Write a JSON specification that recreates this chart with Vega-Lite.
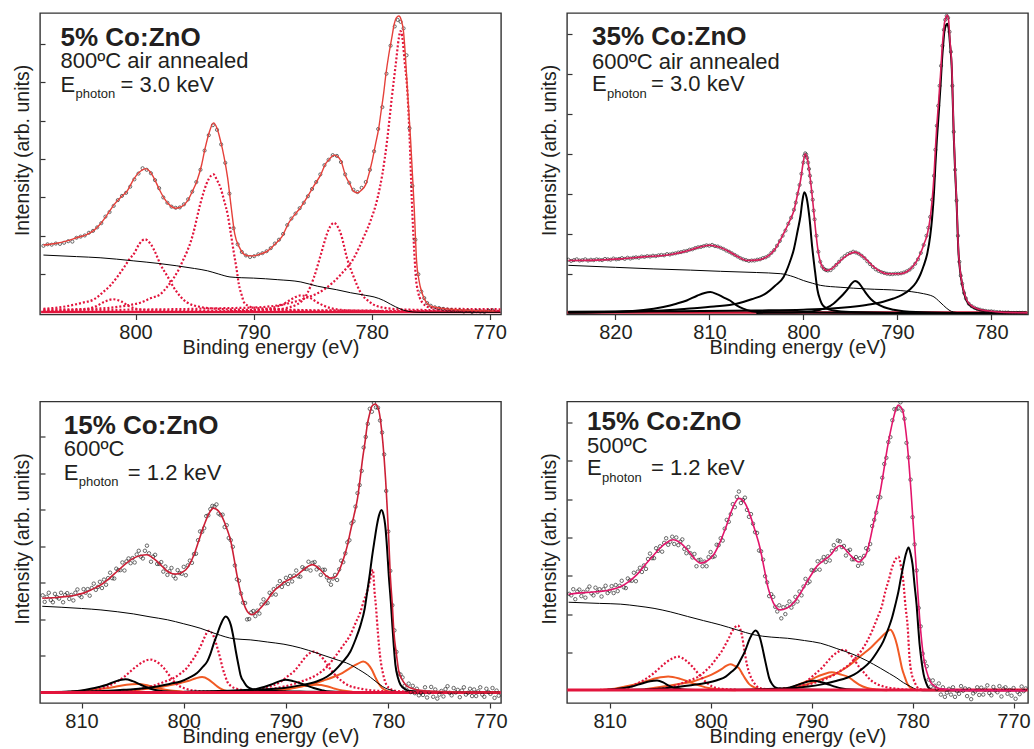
{
"$schema":"https://vega.github.io/schema/vega-lite/v6.json",
"padding":{"left":11,"top":12,"right":0,"bottom":0},
"autosize":{"type":"pad"},
"bounds":"flush",
"columns":2,
"spacing":{"row":86.5,"column":66},
"config":{
"font":"Liberation Sans",
"view":{"stroke":"#333","strokeWidth":1.4},
"axis":{"grid":false,"domain":false,"tickColor":"#333","tickWidth":1.2,"labelFontSize":20,"labelColor":"#231f20","titleFontSize":20,"titleFontWeight":"normal","titleColor":"#231f20","labelFont":"Liberation Sans","titleFont":"Liberation Sans"},
"axisX":{"tickSize":5,"labelPadding":3,"titlePadding":-5},
"axisY":{"tickSize":-5,"labels":false,"titlePadding":7,"titleFontSize":19.5,"titleY":137}
},
"datasets":{
"tl_p":[{"e":807.8,"i":1.74},{"e":807.45,"i":1.78},{"e":807.1,"i":1.77},{"e":806.75,"i":1.8},{"e":806.4,"i":1.79},{"e":806.05,"i":1.82},{"e":805.7,"i":1.86},{"e":805.35,"i":1.85},{"e":805.0,"i":1.95},{"e":804.65,"i":1.98},{"e":804.3,"i":2.01},{"e":803.95,"i":2.08},{"e":803.6,"i":2.13},{"e":803.25,"i":2.22},{"e":802.9,"i":2.33},{"e":802.55,"i":2.5},{"e":802.2,"i":2.62},{"e":801.85,"i":2.78},{"e":801.5,"i":2.93},{"e":801.15,"i":3.04},{"e":800.8,"i":3.12},{"e":800.45,"i":3.28},{"e":800.1,"i":3.47},{"e":799.75,"i":3.62},{"e":799.4,"i":3.76},{"e":799.05,"i":3.72},{"e":798.7,"i":3.63},{"e":798.35,"i":3.45},{"e":798.0,"i":3.24},{"e":797.65,"i":3.0},{"e":797.3,"i":2.86},{"e":796.95,"i":2.76},{"e":796.6,"i":2.73},{"e":796.25,"i":2.74},{"e":795.9,"i":2.82},{"e":795.55,"i":2.95},{"e":795.2,"i":3.15},{"e":794.85,"i":3.4},{"e":794.5,"i":3.72},{"e":794.15,"i":4.22},{"e":793.8,"i":4.62},{"e":793.45,"i":4.88},{"e":793.1,"i":4.76},{"e":792.75,"i":4.38},{"e":792.4,"i":3.9},{"e":792.05,"i":3.1},{"e":791.7,"i":2.2},{"e":791.35,"i":1.78},{"e":791.0,"i":1.58},{"e":790.65,"i":1.49},{"e":790.3,"i":1.45},{"e":789.95,"i":1.47},{"e":789.6,"i":1.52},{"e":789.25,"i":1.55},{"e":788.9,"i":1.6},{"e":788.55,"i":1.68},{"e":788.2,"i":1.8},{"e":787.85,"i":1.9},{"e":787.5,"i":2.05},{"e":787.15,"i":2.28},{"e":786.8,"i":2.45},{"e":786.45,"i":2.58},{"e":786.1,"i":2.72},{"e":785.75,"i":2.86},{"e":785.4,"i":3.03},{"e":785.05,"i":3.22},{"e":784.7,"i":3.4},{"e":784.35,"i":3.6},{"e":784.0,"i":3.84},{"e":783.65,"i":3.98},{"e":783.3,"i":4.1},{"e":782.95,"i":4.08},{"e":782.6,"i":3.92},{"e":782.25,"i":3.6},{"e":781.9,"i":3.38},{"e":781.55,"i":3.2},{"e":781.2,"i":3.14},{"e":780.85,"i":3.25},{"e":780.5,"i":3.4},{"e":780.15,"i":3.72},{"e":779.8,"i":4.2},{"e":779.45,"i":4.78},{"e":779.1,"i":5.35},{"e":778.75,"i":6.22},{"e":778.4,"i":6.95},{"e":778.05,"i":7.45},{"e":777.8,"i":7.62},{"e":777.55,"i":7.57},{"e":777.3,"i":7.4},{"e":777.05,"i":6.7},{"e":776.8,"i":4.8},{"e":776.55,"i":3.3},{"e":776.3,"i":1.9},{"e":776.05,"i":1.0},{"e":775.8,"i":0.55},{"e":775.55,"i":0.38},{"e":775.3,"i":0.25},{"e":775.0,"i":0.18},{"e":774.65,"i":0.14},{"e":774.3,"i":0.12},{"e":773.95,"i":0.1},{"e":773.6,"i":0.08},{"e":773.25,"i":0.07},{"e":772.9,"i":0.05},{"e":772.55,"i":0.06},{"e":772.2,"i":0.03},{"e":771.85,"i":0.05},{"e":771.5,"i":0.02},{"e":771.15,"i":0.04},{"e":770.8,"i":0.03},{"e":770.45,"i":0.02},{"e":770.1,"i":0.05},{"e":769.75,"i":0.06}],
"tl_l":[
{"s":"env","e":807.8,"i":1.76},{"s":"env","e":806.8,"i":1.8},{"s":"env","e":805.8,"i":1.87},{"s":"env","e":805.0,"i":1.95},{"s":"env","e":804.1,"i":2.04},{"s":"env","e":803.5,"i":2.15},{"s":"env","e":803.0,"i":2.3},{"s":"env","e":802.4,"i":2.55},{"s":"env","e":801.8,"i":2.82},{"s":"env","e":801.2,"i":3.02},{"s":"env","e":800.7,"i":3.17},{"s":"env","e":800.2,"i":3.45},{"s":"env","e":799.86,"i":3.6},{"s":"env","e":799.5,"i":3.7},{"s":"env","e":799.15,"i":3.75},{"s":"env","e":798.8,"i":3.68},{"s":"env","e":798.45,"i":3.51},{"s":"env","e":798.0,"i":3.22},{"s":"env","e":797.6,"i":2.99},{"s":"env","e":797.1,"i":2.8},{"s":"env","e":796.6,"i":2.72},{"s":"env","e":796.1,"i":2.76},{"s":"env","e":795.6,"i":2.91},{"s":"env","e":795.2,"i":3.15},{"s":"env","e":794.8,"i":3.43},{"s":"env","e":794.4,"i":3.85},{"s":"env","e":794.1,"i":4.29},{"s":"env","e":793.7,"i":4.75},{"s":"env","e":793.4,"i":4.94},{"s":"env","e":793.1,"i":4.8},{"s":"env","e":792.8,"i":4.47},{"s":"env","e":792.5,"i":4.05},{"s":"env","e":792.2,"i":3.51},{"s":"env","e":791.9,"i":2.75},{"s":"env","e":791.6,"i":2.05},{"s":"env","e":791.2,"i":1.7},{"s":"env","e":790.8,"i":1.52},{"s":"env","e":790.4,"i":1.48},{"s":"env","e":790.0,"i":1.48},{"s":"env","e":789.4,"i":1.53},{"s":"env","e":788.8,"i":1.61},{"s":"env","e":788.2,"i":1.78},{"s":"env","e":787.6,"i":1.98},{"s":"env","e":787.0,"i":2.35},{"s":"env","e":786.6,"i":2.52},{"s":"env","e":786.0,"i":2.75},{"s":"env","e":785.5,"i":2.99},{"s":"env","e":784.9,"i":3.3},{"s":"env","e":784.3,"i":3.6},{"s":"env","e":783.9,"i":3.88},{"s":"env","e":783.6,"i":3.99},{"s":"env","e":783.2,"i":4.1},{"s":"env","e":782.9,"i":4.07},{"s":"env","e":782.6,"i":3.95},{"s":"env","e":782.2,"i":3.55},{"s":"env","e":781.9,"i":3.38},{"s":"env","e":781.5,"i":3.15},{"s":"env","e":781.2,"i":3.12},{"s":"env","e":780.9,"i":3.18},{"s":"env","e":780.5,"i":3.34},{"s":"env","e":780.2,"i":3.65},{"s":"env","e":779.96,"i":3.95},{"s":"env","e":779.7,"i":4.35},{"s":"env","e":779.4,"i":4.81},{"s":"env","e":779.2,"i":5.25},{"s":"env","e":779.0,"i":5.68},{"s":"env","e":778.8,"i":6.2},{"s":"env","e":778.55,"i":6.72},{"s":"env","e":778.3,"i":7.15},{"s":"env","e":778.1,"i":7.5},{"s":"env","e":777.9,"i":7.68},{"s":"env","e":777.7,"i":7.72},{"s":"env","e":777.5,"i":7.62},{"s":"env","e":777.3,"i":7.3},{"s":"env","e":777.15,"i":6.7},{"s":"env","e":777.0,"i":5.94},{"s":"env","e":776.85,"i":5.2},{"s":"env","e":776.7,"i":4.47},{"s":"env","e":776.55,"i":3.6},{"s":"env","e":776.4,"i":2.73},{"s":"env","e":776.3,"i":2.0},{"s":"env","e":776.2,"i":1.35},{"s":"env","e":776.0,"i":0.85},{"s":"env","e":775.7,"i":0.48},{"s":"env","e":775.4,"i":0.28},{"s":"env","e":775.0,"i":0.17},{"s":"env","e":774.2,"i":0.12},{"s":"env","e":773.3,"i":0.09},{"s":"env","e":771.5,"i":0.06},{"s":"env","e":769.6,"i":0.04},
{"s":"bg","e":807.8,"i":1.5},{"s":"bg","e":805.0,"i":1.46},{"s":"bg","e":803.0,"i":1.43},{"s":"bg","e":800.2,"i":1.35},{"s":"bg","e":798.0,"i":1.28},{"s":"bg","e":796.5,"i":1.22},{"s":"bg","e":795.0,"i":1.15},{"s":"bg","e":793.9,"i":1.09},{"s":"bg","e":793.0,"i":1.01},{"s":"bg","e":792.0,"i":0.93},{"s":"bg","e":791.0,"i":0.91},{"s":"bg","e":790.0,"i":0.9},{"s":"bg","e":788.0,"i":0.86},{"s":"bg","e":786.0,"i":0.8},{"s":"bg","e":784.6,"i":0.69},{"s":"bg","e":783.0,"i":0.6},{"s":"bg","e":781.8,"i":0.52},{"s":"bg","e":780.5,"i":0.45},{"s":"bg","e":779.8,"i":0.41},{"s":"bg","e":779.0,"i":0.32},{"s":"bg","e":778.4,"i":0.22},{"s":"bg","e":777.6,"i":0.1},{"s":"bg","e":777.0,"i":0.04},{"s":"bg","e":776.0,"i":0.01},{"s":"bg","e":769.1,"i":0.01},
{"s":"c1","e":807.8,"i":0.1},{"s":"c1","e":805.8,"i":0.17},{"s":"c1","e":804.5,"i":0.26},{"s":"c1","e":803.5,"i":0.35},{"s":"c1","e":802.8,"i":0.52},{"s":"c1","e":802.1,"i":0.72},{"s":"c1","e":801.5,"i":0.95},{"s":"c1","e":801.0,"i":1.17},{"s":"c1","e":800.5,"i":1.4},{"s":"c1","e":800.1,"i":1.55},{"s":"c1","e":799.7,"i":1.78},{"s":"c1","e":799.2,"i":1.91},{"s":"c1","e":798.7,"i":1.78},{"s":"c1","e":798.3,"i":1.55},{"s":"c1","e":797.9,"i":1.26},{"s":"c1","e":797.3,"i":0.95},{"s":"c1","e":796.75,"i":0.65},{"s":"c1","e":796.2,"i":0.42},{"s":"c1","e":795.6,"i":0.26},{"s":"c1","e":794.5,"i":0.15},{"s":"c1","e":793.0,"i":0.1},{"s":"c1","e":790.0,"i":0.07},{"s":"c1","e":785.0,"i":0.05},{"s":"c1","e":769.1,"i":0.04},
{"s":"c2","e":807.8,"i":0.04},{"s":"c2","e":804.5,"i":0.08},{"s":"c2","e":803.4,"i":0.16},{"s":"c2","e":802.6,"i":0.29},{"s":"c2","e":801.9,"i":0.35},{"s":"c2","e":801.2,"i":0.29},{"s":"c2","e":800.5,"i":0.16},{"s":"c2","e":799.5,"i":0.08},{"s":"c2","e":797.0,"i":0.05},{"s":"c2","e":790.0,"i":0.04},
{"s":"c3","e":807.8,"i":0.08},{"s":"c3","e":803.0,"i":0.11},{"s":"c3","e":802.1,"i":0.13},{"s":"c3","e":800.5,"i":0.2},{"s":"c3","e":799.6,"i":0.26},{"s":"c3","e":798.7,"i":0.38},{"s":"c3","e":797.9,"i":0.48},{"s":"c3","e":797.3,"i":0.68},{"s":"c3","e":796.75,"i":0.91},{"s":"c3","e":796.3,"i":1.15},{"s":"c3","e":796.0,"i":1.35},{"s":"c3","e":795.6,"i":1.62},{"s":"c3","e":795.3,"i":1.87},{"s":"c3","e":795.0,"i":2.2},{"s":"c3","e":794.8,"i":2.47},{"s":"c3","e":794.5,"i":2.85},{"s":"c3","e":794.2,"i":3.17},{"s":"c3","e":793.8,"i":3.48},{"s":"c3","e":793.4,"i":3.6},{"s":"c3","e":793.1,"i":3.45},{"s":"c3","e":792.8,"i":3.25},{"s":"c3","e":792.5,"i":2.92},{"s":"c3","e":792.2,"i":2.56},{"s":"c3","e":791.95,"i":2.1},{"s":"c3","e":791.7,"i":1.61},{"s":"c3","e":791.45,"i":1.15},{"s":"c3","e":791.25,"i":0.74},{"s":"c3","e":791.0,"i":0.45},{"s":"c3","e":790.8,"i":0.26},{"s":"c3","e":790.4,"i":0.17},{"s":"c3","e":790.0,"i":0.13},{"s":"c3","e":788.0,"i":0.09},{"s":"c3","e":784.0,"i":0.06},{"s":"c3","e":769.1,"i":0.04},
{"s":"c4","e":790.0,"i":0.06},{"s":"c4","e":788.5,"i":0.12},{"s":"c4","e":787.5,"i":0.22},{"s":"c4","e":786.8,"i":0.35},{"s":"c4","e":786.0,"i":0.45},{"s":"c4","e":785.2,"i":0.38},{"s":"c4","e":784.5,"i":0.25},{"s":"c4","e":783.5,"i":0.12},{"s":"c4","e":782.0,"i":0.06},{"s":"c4","e":779.0,"i":0.04},
{"s":"c5","e":792.0,"i":0.06},{"s":"c5","e":790.0,"i":0.07},{"s":"c5","e":788.0,"i":0.09},{"s":"c5","e":786.3,"i":0.22},{"s":"c5","e":785.5,"i":0.48},{"s":"c5","e":784.9,"i":0.91},{"s":"c5","e":784.3,"i":1.52},{"s":"c5","e":783.8,"i":2.04},{"s":"c5","e":783.5,"i":2.25},{"s":"c5","e":783.2,"i":2.34},{"s":"c5","e":782.9,"i":2.25},{"s":"c5","e":782.6,"i":2.04},{"s":"c5","e":782.1,"i":1.43},{"s":"c5","e":781.5,"i":0.91},{"s":"c5","e":781.0,"i":0.56},{"s":"c5","e":780.1,"i":0.26},{"s":"c5","e":779.0,"i":0.13},{"s":"c5","e":777.0,"i":0.08},{"s":"c5","e":769.1,"i":0.05},
{"s":"c6","e":807.8,"i":0.05},{"s":"c6","e":800.0,"i":0.08},{"s":"c6","e":795.0,"i":0.1},{"s":"c6","e":792.0,"i":0.12},{"s":"c6","e":790.3,"i":0.13},{"s":"c6","e":787.4,"i":0.22},{"s":"c6","e":785.5,"i":0.39},{"s":"c6","e":784.0,"i":0.61},{"s":"c6","e":782.6,"i":1.0},{"s":"c6","e":781.5,"i":1.43},{"s":"c6","e":780.7,"i":1.95},{"s":"c6","e":780.1,"i":2.39},{"s":"c6","e":779.5,"i":2.99},{"s":"c6","e":779.1,"i":3.6},{"s":"c6","e":778.7,"i":4.47},{"s":"c6","e":778.3,"i":5.59},{"s":"c6","e":777.95,"i":6.5},{"s":"c6","e":777.7,"i":7.15},{"s":"c6","e":777.56,"i":7.33},{"s":"c6","e":777.42,"i":7.2},{"s":"c6","e":777.2,"i":6.5},{"s":"c6","e":777.0,"i":5.86},{"s":"c6","e":776.8,"i":4.64},{"s":"c6","e":776.6,"i":2.91},{"s":"c6","e":776.4,"i":1.61},{"s":"c6","e":776.2,"i":0.74},{"s":"c6","e":775.7,"i":0.26},{"s":"c6","e":775.0,"i":0.13},{"s":"c6","e":773.0,"i":0.1},{"s":"c6","e":769.1,"i":0.09},
{"s":"base","e":808.0,"i":0.02},{"s":"base","e":769.1,"i":0.02}],
"tr_p":[{"e":825.0,"i":1.35},{"e":824.7,"i":1.32},{"e":824.4,"i":1.34},{"e":824.1,"i":1.36},{"e":823.8,"i":1.33},{"e":823.5,"i":1.34},{"e":823.2,"i":1.36},{"e":822.9,"i":1.33},{"e":822.6,"i":1.35},{"e":822.3,"i":1.34},{"e":822.0,"i":1.36},{"e":821.7,"i":1.35},{"e":821.4,"i":1.34},{"e":821.1,"i":1.37},{"e":820.8,"i":1.36},{"e":820.5,"i":1.35},{"e":820.2,"i":1.38},{"e":819.9,"i":1.36},{"e":819.6,"i":1.37},{"e":819.3,"i":1.39},{"e":819.0,"i":1.37},{"e":818.7,"i":1.4},{"e":818.4,"i":1.38},{"e":818.1,"i":1.4},{"e":817.8,"i":1.41},{"e":817.5,"i":1.4},{"e":817.2,"i":1.43},{"e":816.9,"i":1.42},{"e":816.6,"i":1.44},{"e":816.3,"i":1.43},{"e":816.0,"i":1.45},{"e":815.7,"i":1.44},{"e":815.4,"i":1.46},{"e":815.1,"i":1.47},{"e":814.8,"i":1.46},{"e":814.5,"i":1.49},{"e":814.2,"i":1.48},{"e":813.9,"i":1.5},{"e":813.6,"i":1.51},{"e":813.3,"i":1.53},{"e":813.0,"i":1.54},{"e":812.7,"i":1.56},{"e":812.4,"i":1.57},{"e":812.1,"i":1.6},{"e":811.8,"i":1.61},{"e":811.5,"i":1.64},{"e":811.2,"i":1.66},{"e":810.9,"i":1.67},{"e":810.6,"i":1.69},{"e":810.3,"i":1.71},{"e":810.0,"i":1.7},{"e":809.7,"i":1.72},{"e":809.4,"i":1.69},{"e":809.1,"i":1.68},{"e":808.8,"i":1.65},{"e":808.5,"i":1.62},{"e":808.2,"i":1.58},{"e":807.9,"i":1.55},{"e":807.6,"i":1.51},{"e":807.3,"i":1.47},{"e":807.0,"i":1.43},{"e":806.7,"i":1.39},{"e":806.4,"i":1.36},{"e":806.1,"i":1.34},{"e":805.8,"i":1.32},{"e":805.5,"i":1.33},{"e":805.2,"i":1.33},{"e":804.9,"i":1.35},{"e":804.6,"i":1.36},{"e":804.3,"i":1.39},{"e":804.0,"i":1.41},{"e":803.7,"i":1.45},{"e":803.4,"i":1.52},{"e":803.1,"i":1.59},{"e":802.8,"i":1.7},{"e":802.5,"i":1.82},{"e":802.2,"i":1.95},{"e":801.9,"i":2.08},{"e":801.6,"i":2.25},{"e":801.3,"i":2.4},{"e":801.0,"i":2.6},{"e":800.8,"i":2.78},{"e":800.6,"i":3.0},{"e":800.4,"i":3.22},{"e":800.2,"i":3.5},{"e":800.0,"i":3.78},{"e":799.9,"i":3.95},{"e":799.8,"i":4.01},{"e":799.7,"i":3.98},{"e":799.6,"i":3.9},{"e":799.5,"i":3.78},{"e":799.4,"i":3.62},{"e":799.3,"i":3.45},{"e":799.2,"i":3.28},{"e":799.1,"i":3.05},{"e":799.0,"i":2.85},{"e":798.9,"i":2.58},{"e":798.8,"i":2.36},{"e":798.6,"i":1.95},{"e":798.4,"i":1.55},{"e":798.2,"i":1.3},{"e":798.0,"i":1.18},{"e":797.8,"i":1.12},{"e":797.6,"i":1.09},{"e":797.4,"i":1.08},{"e":797.1,"i":1.09},{"e":796.8,"i":1.15},{"e":796.5,"i":1.22},{"e":796.2,"i":1.3},{"e":795.9,"i":1.38},{"e":795.6,"i":1.44},{"e":795.3,"i":1.49},{"e":795.0,"i":1.52},{"e":794.7,"i":1.55},{"e":794.4,"i":1.53},{"e":794.1,"i":1.5},{"e":793.8,"i":1.45},{"e":793.5,"i":1.39},{"e":793.2,"i":1.31},{"e":792.9,"i":1.24},{"e":792.6,"i":1.17},{"e":792.3,"i":1.11},{"e":792.0,"i":1.07},{"e":791.7,"i":1.04},{"e":791.4,"i":1.02},{"e":791.1,"i":1.0},{"e":790.8,"i":0.99},{"e":790.5,"i":0.99},{"e":790.2,"i":1.0},{"e":789.9,"i":1.0},{"e":789.6,"i":1.01},{"e":789.3,"i":1.03},{"e":789.0,"i":1.06},{"e":788.7,"i":1.1},{"e":788.4,"i":1.16},{"e":788.1,"i":1.25},{"e":787.8,"i":1.36},{"e":787.5,"i":1.52},{"e":787.2,"i":1.72},{"e":786.9,"i":1.95},{"e":786.7,"i":2.15},{"e":786.5,"i":2.42},{"e":786.3,"i":2.85},{"e":786.1,"i":3.45},{"e":785.95,"i":4.1},{"e":785.8,"i":4.7},{"e":785.65,"i":5.2},{"e":785.5,"i":5.7},{"e":785.35,"i":6.2},{"e":785.2,"i":6.7},{"e":785.05,"i":7.1},{"e":784.9,"i":7.35},{"e":784.75,"i":7.45},{"e":784.6,"i":7.4},{"e":784.45,"i":7.05},{"e":784.3,"i":6.55},{"e":784.15,"i":5.7},{"e":784.0,"i":4.55},{"e":783.85,"i":3.6},{"e":783.7,"i":2.83},{"e":783.55,"i":1.95},{"e":783.4,"i":1.3},{"e":783.25,"i":0.95},{"e":783.1,"i":0.75},{"e":782.9,"i":0.52},{"e":782.7,"i":0.38},{"e":782.4,"i":0.25},{"e":782.1,"i":0.19},{"e":781.8,"i":0.15},{"e":781.5,"i":0.12},{"e":781.2,"i":0.1},{"e":780.9,"i":0.08},{"e":780.6,"i":0.07},{"e":780.3,"i":0.06},{"e":780.0,"i":0.06},{"e":779.7,"i":0.05},{"e":779.4,"i":0.04},{"e":779.1,"i":0.04},{"e":778.8,"i":0.03},{"e":778.5,"i":0.03},{"e":778.2,"i":0.03},{"e":777.9,"i":0.02},{"e":777.6,"i":0.02},{"e":777.3,"i":0.02},{"e":777.0,"i":0.02},{"e":776.7,"i":0.02},{"e":776.4,"i":0.02}],
"tr_l":[
{"s":"env","e":825.0,"i":1.33},{"s":"env","e":822.0,"i":1.34},{"s":"env","e":819.5,"i":1.37},{"s":"env","e":817.0,"i":1.42},{"s":"env","e":814.1,"i":1.48},{"s":"env","e":812.5,"i":1.56},{"s":"env","e":811.7,"i":1.62},{"s":"env","e":810.8,"i":1.68},{"s":"env","e":809.9,"i":1.71},{"s":"env","e":809.0,"i":1.67},{"s":"env","e":808.1,"i":1.58},{"s":"env","e":807.0,"i":1.43},{"s":"env","e":806.0,"i":1.33},{"s":"env","e":805.0,"i":1.34},{"s":"env","e":803.9,"i":1.42},{"s":"env","e":803.0,"i":1.62},{"s":"env","e":802.1,"i":2.0},{"s":"env","e":801.5,"i":2.3},{"s":"env","e":801.0,"i":2.58},{"s":"env","e":800.6,"i":3.0},{"s":"env","e":800.3,"i":3.33},{"s":"env","e":800.0,"i":3.8},{"s":"env","e":799.8,"i":4.0},{"s":"env","e":799.55,"i":3.85},{"s":"env","e":799.3,"i":3.45},{"s":"env","e":798.95,"i":2.7},{"s":"env","e":798.7,"i":2.1},{"s":"env","e":798.45,"i":1.6},{"s":"env","e":798.2,"i":1.3},{"s":"env","e":797.9,"i":1.15},{"s":"env","e":797.5,"i":1.08},{"s":"env","e":797.0,"i":1.12},{"s":"env","e":796.4,"i":1.25},{"s":"env","e":795.35,"i":1.46},{"s":"env","e":794.5,"i":1.54},{"s":"env","e":793.6,"i":1.42},{"s":"env","e":792.5,"i":1.17},{"s":"env","e":791.1,"i":1.0},{"s":"env","e":789.7,"i":1.0},{"s":"env","e":788.6,"i":1.12},{"s":"env","e":787.55,"i":1.5},{"s":"env","e":787.2,"i":1.72},{"s":"env","e":786.8,"i":2.0},{"s":"env","e":786.5,"i":2.4},{"s":"env","e":786.3,"i":2.83},{"s":"env","e":786.1,"i":3.45},{"s":"env","e":785.96,"i":4.08},{"s":"env","e":785.8,"i":4.7},{"s":"env","e":785.6,"i":5.33},{"s":"env","e":785.4,"i":6.0},{"s":"env","e":785.25,"i":6.58},{"s":"env","e":785.1,"i":7.0},{"s":"env","e":785.0,"i":7.25},{"s":"env","e":784.85,"i":7.4},{"s":"env","e":784.7,"i":7.46},{"s":"env","e":784.55,"i":7.35},{"s":"env","e":784.4,"i":6.83},{"s":"env","e":784.2,"i":6.17},{"s":"env","e":784.0,"i":4.5},{"s":"env","e":783.85,"i":3.6},{"s":"env","e":783.7,"i":2.83},{"s":"env","e":783.5,"i":1.58},{"s":"env","e":783.3,"i":1.05},{"s":"env","e":783.1,"i":0.75},{"s":"env","e":782.6,"i":0.33},{"s":"env","e":782.0,"i":0.18},{"s":"env","e":781.5,"i":0.125},{"s":"env","e":780.0,"i":0.06},{"s":"env","e":779.0,"i":0.04},{"s":"env","e":776.2,"i":0.02},
{"s":"bg","e":825.0,"i":1.21},{"s":"bg","e":820.0,"i":1.16},{"s":"bg","e":815.9,"i":1.12},{"s":"bg","e":812.0,"i":1.09},{"s":"bg","e":808.8,"i":1.06},{"s":"bg","e":805.0,"i":1.03},{"s":"bg","e":802.4,"i":1.0},{"s":"bg","e":801.0,"i":0.92},{"s":"bg","e":800.0,"i":0.83},{"s":"bg","e":799.0,"i":0.76},{"s":"bg","e":798.2,"i":0.71},{"s":"bg","e":796.0,"i":0.66},{"s":"bg","e":793.3,"i":0.62},{"s":"bg","e":789.7,"i":0.58},{"s":"bg","e":787.2,"i":0.5},{"s":"bg","e":786.5,"i":0.46},{"s":"bg","e":786.1,"i":0.42},{"s":"bg","e":785.6,"i":0.32},{"s":"bg","e":785.1,"i":0.21},{"s":"bg","e":784.5,"i":0.09},{"s":"bg","e":784.0,"i":0.04},{"s":"bg","e":783.0,"i":0.02},{"s":"bg","e":776.2,"i":0.02},
{"s":"p1","e":825.0,"i":0.03},{"s":"p1","e":819.5,"i":0.05},{"s":"p1","e":817.0,"i":0.09},{"s":"p1","e":814.9,"i":0.17},{"s":"p1","e":813.5,"i":0.25},{"s":"p1","e":812.4,"i":0.33},{"s":"p1","e":811.3,"i":0.45},{"s":"p1","e":810.5,"i":0.52},{"s":"p1","e":809.9,"i":0.54},{"s":"p1","e":809.2,"i":0.49},{"s":"p1","e":808.5,"i":0.41},{"s":"p1","e":807.8,"i":0.33},{"s":"p1","e":807.1,"i":0.21},{"s":"p1","e":806.4,"i":0.125},{"s":"p1","e":805.5,"i":0.06},{"s":"p1","e":804.6,"i":0.04},{"s":"p1","e":800.0,"i":0.03},{"s":"p1","e":790.0,"i":0.02},{"s":"p1","e":776.2,"i":0.02},
{"s":"p2","e":825.0,"i":0.03},{"s":"p2","e":819.5,"i":0.05},{"s":"p2","e":815.0,"i":0.08},{"s":"p2","e":812.4,"i":0.125},{"s":"p2","e":809.5,"i":0.18},{"s":"p2","e":807.1,"i":0.25},{"s":"p2","e":805.5,"i":0.36},{"s":"p2","e":803.9,"i":0.52},{"s":"p2","e":803.0,"i":0.7},{"s":"p2","e":802.1,"i":0.92},{"s":"p2","e":801.5,"i":1.25},{"s":"p2","e":801.0,"i":1.62},{"s":"p2","e":800.6,"i":2.08},{"s":"p2","e":800.3,"i":2.45},{"s":"p2","e":800.1,"i":2.82},{"s":"p2","e":799.9,"i":3.04},{"s":"p2","e":799.65,"i":2.9},{"s":"p2","e":799.35,"i":2.4},{"s":"p2","e":799.05,"i":1.65},{"s":"p2","e":798.75,"i":1.05},{"s":"p2","e":798.5,"i":0.6},{"s":"p2","e":798.2,"i":0.34},{"s":"p2","e":797.9,"i":0.2},{"s":"p2","e":797.3,"i":0.11},{"s":"p2","e":796.8,"i":0.08},{"s":"p2","e":795.0,"i":0.04},{"s":"p2","e":790.0,"i":0.02},{"s":"p2","e":776.2,"i":0.02},
{"s":"p3","e":805.0,"i":0.02},{"s":"p3","e":800.0,"i":0.04},{"s":"p3","e":798.2,"i":0.1},{"s":"p3","e":797.5,"i":0.15},{"s":"p3","e":796.8,"i":0.25},{"s":"p3","e":796.2,"i":0.38},{"s":"p3","e":795.7,"i":0.5},{"s":"p3","e":795.2,"i":0.64},{"s":"p3","e":794.85,"i":0.76},{"s":"p3","e":794.5,"i":0.82},{"s":"p3","e":794.1,"i":0.77},{"s":"p3","e":793.7,"i":0.64},{"s":"p3","e":793.3,"i":0.5},{"s":"p3","e":792.8,"i":0.36},{"s":"p3","e":792.2,"i":0.25},{"s":"p3","e":791.4,"i":0.16},{"s":"p3","e":790.4,"i":0.1},{"s":"p3","e":788.0,"i":0.04},{"s":"p3","e":784.0,"i":0.02},
{"s":"p4","e":825.0,"i":0.05},{"s":"p4","e":815.0,"i":0.06},{"s":"p4","e":805.0,"i":0.08},{"s":"p4","e":800.0,"i":0.1},{"s":"p4","e":797.0,"i":0.13},{"s":"p4","e":795.0,"i":0.17},{"s":"p4","e":793.3,"i":0.22},{"s":"p4","e":791.5,"i":0.3},{"s":"p4","e":790.4,"i":0.38},{"s":"p4","e":789.5,"i":0.47},{"s":"p4","e":788.6,"i":0.62},{"s":"p4","e":788.0,"i":0.78},{"s":"p4","e":787.55,"i":0.98},{"s":"p4","e":787.2,"i":1.2},{"s":"p4","e":786.8,"i":1.52},{"s":"p4","e":786.5,"i":1.95},{"s":"p4","e":786.3,"i":2.39},{"s":"p4","e":786.1,"i":3.03},{"s":"p4","e":785.96,"i":3.68},{"s":"p4","e":785.8,"i":4.33},{"s":"p4","e":785.6,"i":5.0},{"s":"p4","e":785.4,"i":5.72},{"s":"p4","e":785.25,"i":6.33},{"s":"p4","e":785.1,"i":6.79},{"s":"p4","e":785.0,"i":7.05},{"s":"p4","e":784.85,"i":7.2},{"s":"p4","e":784.7,"i":7.25},{"s":"p4","e":784.55,"i":7.15},{"s":"p4","e":784.4,"i":6.75},{"s":"p4","e":784.2,"i":6.1},{"s":"p4","e":784.0,"i":4.46},{"s":"p4","e":783.85,"i":3.56},{"s":"p4","e":783.7,"i":2.8},{"s":"p4","e":783.5,"i":1.55},{"s":"p4","e":783.3,"i":1.03},{"s":"p4","e":783.1,"i":0.73},{"s":"p4","e":782.6,"i":0.31},{"s":"p4","e":782.0,"i":0.16},{"s":"p4","e":781.5,"i":0.11},{"s":"p4","e":780.0,"i":0.05},{"s":"p4","e":779.0,"i":0.04},{"s":"p4","e":776.2,"i":0.02},
{"s":"base","e":825.1,"i":0.03},{"s":"base","e":776.15,"i":0.03}],
"bl_p":[{"e":813.8,"i":2.66},{"e":813.6,"i":2.48},{"e":813.4,"i":2.62},{"e":813.2,"i":2.73},{"e":813.0,"i":2.53},{"e":812.8,"i":2.47},{"e":812.6,"i":2.7},{"e":812.4,"i":2.61},{"e":812.2,"i":2.57},{"e":812.0,"i":2.73},{"e":811.8,"i":2.47},{"e":811.6,"i":2.67},{"e":811.4,"i":2.72},{"e":811.2,"i":2.56},{"e":811.0,"i":2.67},{"e":810.8,"i":2.52},{"e":810.6,"i":2.73},{"e":810.4,"i":2.82},{"e":810.2,"i":2.66},{"e":810.0,"i":2.61},{"e":809.8,"i":2.83},{"e":809.6,"i":2.73},{"e":809.4,"i":2.83},{"e":809.2,"i":2.65},{"e":809.0,"i":2.86},{"e":808.8,"i":2.98},{"e":808.6,"i":2.81},{"e":808.4,"i":2.89},{"e":808.2,"i":3.03},{"e":808.0,"i":2.86},{"e":807.8,"i":3.09},{"e":807.6,"i":2.95},{"e":807.4,"i":3.13},{"e":807.2,"i":3.28},{"e":807.0,"i":3.13},{"e":806.8,"i":3.12},{"e":806.6,"i":3.39},{"e":806.4,"i":3.35},{"e":806.2,"i":3.35},{"e":806.0,"i":3.56},{"e":805.8,"i":3.34},{"e":805.6,"i":3.59},{"e":805.4,"i":3.67},{"e":805.2,"i":3.54},{"e":805.0,"i":3.68},{"e":804.8,"i":3.56},{"e":804.6,"i":3.78},{"e":804.4,"i":3.88},{"e":804.2,"i":3.72},{"e":804.0,"i":3.67},{"e":803.8,"i":3.88},{"e":803.6,"i":4.02},{"e":803.4,"i":3.81},{"e":803.2,"i":3.58},{"e":803.0,"i":3.72},{"e":802.8,"i":3.77},{"e":802.6,"i":3.52},{"e":802.4,"i":3.52},{"e":802.2,"i":3.57},{"e":802.0,"i":3.31},{"e":801.8,"i":3.45},{"e":801.6,"i":3.22},{"e":801.4,"i":3.32},{"e":801.2,"i":3.41},{"e":801.0,"i":3.19},{"e":800.8,"i":3.12},{"e":800.6,"i":3.35},{"e":800.4,"i":3.27},{"e":800.2,"i":3.25},{"e":800.0,"i":3.44},{"e":799.8,"i":3.21},{"e":799.6,"i":3.48},{"e":799.4,"i":3.61},{"e":799.2,"i":3.55},{"e":799.0,"i":3.79},{"e":798.8,"i":3.8},{"e":798.6,"i":4.17},{"e":798.4,"i":4.41},{"e":798.2,"i":4.4},{"e":798.0,"i":4.5},{"e":797.8,"i":4.83},{"e":797.6,"i":4.85},{"e":797.4,"i":5.02},{"e":797.2,"i":5.11},{"e":797.0,"i":5.09},{"e":796.8,"i":5.15},{"e":796.6,"i":4.9},{"e":796.4,"i":4.86},{"e":796.2,"i":4.87},{"e":796.0,"i":4.53},{"e":795.8,"i":4.58},{"e":795.6,"i":4.23},{"e":795.4,"i":4.17},{"e":795.2,"i":3.99},{"e":795.0,"i":3.48},{"e":794.8,"i":3.1},{"e":794.6,"i":3.06},{"e":794.4,"i":2.71},{"e":794.2,"i":2.46},{"e":794.0,"i":2.45},{"e":793.8,"i":2.0},{"e":793.6,"i":2.01},{"e":793.4,"i":2.19},{"e":793.2,"i":2.23},{"e":793.0,"i":2.09},{"e":792.8,"i":2.24},{"e":792.6,"i":2.16},{"e":792.4,"i":2.41},{"e":792.2,"i":2.55},{"e":792.0,"i":2.44},{"e":791.8,"i":2.45},{"e":791.6,"i":2.73},{"e":791.4,"i":2.68},{"e":791.2,"i":2.83},{"e":791.0,"i":2.68},{"e":790.8,"i":2.91},{"e":790.6,"i":3.05},{"e":790.4,"i":2.89},{"e":790.2,"i":2.99},{"e":790.0,"i":3.14},{"e":789.8,"i":2.97},{"e":789.6,"i":3.19},{"e":789.4,"i":3.04},{"e":789.2,"i":3.2},{"e":789.0,"i":3.34},{"e":788.8,"i":3.18},{"e":788.6,"i":3.17},{"e":788.4,"i":3.43},{"e":788.2,"i":3.39},{"e":788.0,"i":3.38},{"e":787.8,"i":3.58},{"e":787.6,"i":3.34},{"e":787.4,"i":3.55},{"e":787.2,"i":3.57},{"e":787.0,"i":3.37},{"e":786.8,"i":3.42},{"e":786.6,"i":3.22},{"e":786.4,"i":3.36},{"e":786.2,"i":3.36},{"e":786.0,"i":3.15},{"e":785.8,"i":3.06},{"e":785.6,"i":2.95},{"e":785.4,"i":3.12},{"e":785.2,"i":3.22},{"e":785.0,"i":3.08},{"e":784.8,"i":3.37},{"e":784.6,"i":3.61},{"e":784.4,"i":3.57},{"e":784.2,"i":3.81},{"e":784.0,"i":4.11},{"e":783.8,"i":4.17},{"e":783.6,"i":4.63},{"e":783.4,"i":4.69},{"e":783.2,"i":5.09},{"e":783.0,"i":5.46},{"e":782.8,"i":5.68},{"e":782.6,"i":6.07},{"e":782.4,"i":6.71},{"e":782.2,"i":7.0},{"e":782.0,"i":7.36},{"e":781.8,"i":7.77},{"e":781.6,"i":7.69},{"e":781.4,"i":7.93},{"e":781.2,"i":7.81},{"e":781.0,"i":7.8},{"e":780.8,"i":7.45},{"e":780.6,"i":7.12},{"e":780.4,"i":6.52},{"e":780.2,"i":5.52},{"e":780.0,"i":4.41},{"e":779.8,"i":3.33},{"e":779.6,"i":2.39},{"e":779.4,"i":1.7},{"e":779.2,"i":1.11},{"e":779.0,"i":0.52},{"e":778.8,"i":0.49},{"e":778.6,"i":0.41},{"e":778.4,"i":0.18},{"e":778.2,"i":0.07},{"e":778.0,"i":0.24},{"e":777.8,"i":0.01},{"e":777.6,"i":0.18},{"e":777.4,"i":-0.02},{"e":777.2,"i":0.1},{"e":777.0,"i":-0.08},{"e":776.8,"i":-0.01},{"e":776.6,"i":-0.07},{"e":776.4,"i":0.14},{"e":776.2,"i":-0.14},{"e":776.0,"i":0.0},{"e":775.8,"i":0.15},{"e":775.6,"i":-0.12},{"e":775.4,"i":0.08},{"e":775.2,"i":-0.17},{"e":775.0,"i":-0.06},{"e":774.8,"i":0.04},{"e":774.6,"i":-0.11},{"e":774.4,"i":0.09},{"e":774.2,"i":0.17},{"e":774.0,"i":-0.01},{"e":773.8,"i":-0.08},{"e":773.6,"i":0.12},{"e":773.4,"i":0.0},{"e":773.2,"i":0.07},{"e":773.0,"i":-0.13},{"e":772.8,"i":0.05},{"e":772.6,"i":0.14},{"e":772.4,"i":-0.06},{"e":772.2,"i":-0.01},{"e":772.0,"i":0.1},{"e":771.8,"i":-0.1},{"e":771.6,"i":0.08},{"e":771.4,"i":-0.1},{"e":771.2,"i":0.03},{"e":771.0,"i":0.14},{"e":770.8,"i":-0.06},{"e":770.6,"i":-0.12},{"e":770.4,"i":0.1},{"e":770.2,"i":0.01},{"e":770.0,"i":-0.04},{"e":769.8,"i":0.12},{"e":769.6,"i":-0.15},{"e":769.4,"i":0.05},{"e":769.2,"i":-0.09}],
"bl_l":[
{"s":"env","e":813.84,"i":2.58},{"s":"env","e":812.5,"i":2.6},{"s":"env","e":811.4,"i":2.63},{"s":"env","e":810.5,"i":2.67},{"s":"env","e":809.8,"i":2.72},{"s":"env","e":809.0,"i":2.82},{"s":"env","e":808.1,"i":2.95},{"s":"env","e":807.3,"i":3.12},{"s":"env","e":806.5,"i":3.32},{"s":"env","e":805.7,"i":3.52},{"s":"env","e":804.9,"i":3.68},{"s":"env","e":804.2,"i":3.75},{"s":"env","e":803.6,"i":3.77},{"s":"env","e":803.1,"i":3.7},{"s":"env","e":802.6,"i":3.59},{"s":"env","e":802.1,"i":3.45},{"s":"env","e":801.6,"i":3.32},{"s":"env","e":800.8,"i":3.24},{"s":"env","e":800.3,"i":3.27},{"s":"env","e":799.8,"i":3.36},{"s":"env","e":799.4,"i":3.52},{"s":"env","e":799.0,"i":3.77},{"s":"env","e":798.5,"i":4.18},{"s":"env","e":798.0,"i":4.59},{"s":"env","e":797.5,"i":4.92},{"s":"env","e":797.1,"i":5.05},{"s":"env","e":796.6,"i":4.97},{"s":"env","e":796.2,"i":4.78},{"s":"env","e":795.8,"i":4.5},{"s":"env","e":795.4,"i":4.14},{"s":"env","e":795.1,"i":3.7},{"s":"env","e":794.8,"i":3.22},{"s":"env","e":794.4,"i":2.7},{"s":"env","e":793.96,"i":2.31},{"s":"env","e":793.6,"i":2.16},{"s":"env","e":793.3,"i":2.13},{"s":"env","e":792.8,"i":2.22},{"s":"env","e":792.2,"i":2.4},{"s":"env","e":791.7,"i":2.58},{"s":"env","e":791.2,"i":2.77},{"s":"env","e":790.6,"i":2.92},{"s":"env","e":790.05,"i":3.04},{"s":"env","e":789.5,"i":3.12},{"s":"env","e":788.9,"i":3.22},{"s":"env","e":788.2,"i":3.38},{"s":"env","e":787.7,"i":3.48},{"s":"env","e":787.4,"i":3.5},{"s":"env","e":787.0,"i":3.45},{"s":"env","e":786.5,"i":3.32},{"s":"env","e":786.0,"i":3.18},{"s":"env","e":785.6,"i":3.13},{"s":"env","e":785.3,"i":3.14},{"s":"env","e":785.0,"i":3.22},{"s":"env","e":784.7,"i":3.4},{"s":"env","e":784.35,"i":3.68},{"s":"env","e":784.0,"i":4.02},{"s":"env","e":783.7,"i":4.41},{"s":"env","e":783.35,"i":4.85},{"s":"env","e":783.0,"i":5.32},{"s":"env","e":782.75,"i":5.85},{"s":"env","e":782.5,"i":6.42},{"s":"env","e":782.25,"i":6.9},{"s":"env","e":782.05,"i":7.33},{"s":"env","e":781.8,"i":7.65},{"s":"env","e":781.6,"i":7.84},{"s":"env","e":781.25,"i":7.9},{"s":"env","e":780.9,"i":7.7},{"s":"env","e":780.65,"i":7.2},{"s":"env","e":780.4,"i":6.42},{"s":"env","e":780.25,"i":5.8},{"s":"env","e":780.1,"i":5.05},{"s":"env","e":779.95,"i":4.2},{"s":"env","e":779.8,"i":3.22},{"s":"env","e":779.6,"i":2.4},{"s":"env","e":779.45,"i":1.67},{"s":"env","e":779.2,"i":1.05},{"s":"env","e":778.97,"i":0.58},{"s":"env","e":778.6,"i":0.33},{"s":"env","e":778.3,"i":0.21},{"s":"env","e":777.8,"i":0.12},{"s":"env","e":777.2,"i":0.07},{"s":"env","e":775.5,"i":0.03},{"s":"env","e":769.1,"i":0.0},
{"s":"bg","e":813.84,"i":2.36},{"s":"bg","e":810.0,"i":2.3},{"s":"bg","e":808.1,"i":2.26},{"s":"bg","e":806.5,"i":2.21},{"s":"bg","e":804.9,"i":2.15},{"s":"bg","e":803.3,"i":2.07},{"s":"bg","e":801.6,"i":1.99},{"s":"bg","e":800.0,"i":1.88},{"s":"bg","e":798.4,"i":1.76},{"s":"bg","e":796.8,"i":1.6},{"s":"bg","e":795.1,"i":1.47},{"s":"bg","e":793.5,"i":1.44},{"s":"bg","e":791.8,"i":1.38},{"s":"bg","e":790.2,"i":1.32},{"s":"bg","e":788.6,"i":1.22},{"s":"bg","e":787.0,"i":1.08},{"s":"bg","e":785.3,"i":0.92},{"s":"bg","e":783.7,"i":0.76},{"s":"bg","e":782.9,"i":0.63},{"s":"bg","e":782.05,"i":0.48},{"s":"bg","e":781.4,"i":0.34},{"s":"bg","e":780.8,"i":0.21},{"s":"bg","e":780.3,"i":0.12},{"s":"bg","e":779.8,"i":0.07},{"s":"bg","e":779.0,"i":0.02},{"s":"bg","e":769.1,"i":0.0},
{"s":"k1","e":813.0,"i":0.0},{"s":"k1","e":811.5,"i":0.02},{"s":"k1","e":810.75,"i":0.03},{"s":"k1","e":809.1,"i":0.1},{"s":"k1","e":808.3,"i":0.15},{"s":"k1","e":807.5,"i":0.21},{"s":"k1","e":806.6,"i":0.31},{"s":"k1","e":805.7,"i":0.36},{"s":"k1","e":805.0,"i":0.31},{"s":"k1","e":804.2,"i":0.21},{"s":"k1","e":803.25,"i":0.1},{"s":"k1","e":802.5,"i":0.05},{"s":"k1","e":801.95,"i":0.03},{"s":"k1","e":800.0,"i":0.01},
{"s":"k2","e":813.84,"i":0.01},{"s":"k2","e":810.0,"i":0.02},{"s":"k2","e":805.9,"i":0.07},{"s":"k2","e":802.6,"i":0.16},{"s":"k2","e":801.3,"i":0.24},{"s":"k2","e":800.3,"i":0.3},{"s":"k2","e":799.5,"i":0.4},{"s":"k2","e":798.7,"i":0.53},{"s":"k2","e":798.2,"i":0.68},{"s":"k2","e":797.7,"i":0.85},{"s":"k2","e":797.4,"i":1.05},{"s":"k2","e":797.1,"i":1.31},{"s":"k2","e":796.7,"i":1.62},{"s":"k2","e":796.4,"i":1.85},{"s":"k2","e":795.9,"i":2.08},{"s":"k2","e":795.4,"i":1.85},{"s":"k2","e":795.1,"i":1.45},{"s":"k2","e":794.9,"i":1.12},{"s":"k2","e":794.65,"i":0.75},{"s":"k2","e":794.45,"i":0.48},{"s":"k2","e":794.1,"i":0.28},{"s":"k2","e":793.8,"i":0.16},{"s":"k2","e":793.3,"i":0.09},{"s":"k2","e":792.8,"i":0.07},{"s":"k2","e":791.0,"i":0.04},{"s":"k2","e":788.0,"i":0.02},{"s":"k2","e":785.0,"i":0.01},
{"s":"k3","e":794.0,"i":0.02},{"s":"k3","e":792.8,"i":0.1},{"s":"k3","e":791.5,"i":0.21},{"s":"k3","e":790.6,"i":0.31},{"s":"k3","e":790.05,"i":0.35},{"s":"k3","e":789.3,"i":0.31},{"s":"k3","e":788.6,"i":0.25},{"s":"k3","e":787.9,"i":0.18},{"s":"k3","e":787.3,"i":0.12},{"s":"k3","e":786.5,"i":0.06},{"s":"k3","e":786.0,"i":0.03},{"s":"k3","e":784.0,"i":0.01},
{"s":"k4","e":800.0,"i":0.02},{"s":"k4","e":795.1,"i":0.05},{"s":"k4","e":792.0,"i":0.09},{"s":"k4","e":790.2,"i":0.12},{"s":"k4","e":788.5,"i":0.2},{"s":"k4","e":787.0,"i":0.3},{"s":"k4","e":786.0,"i":0.43},{"s":"k4","e":785.3,"i":0.58},{"s":"k4","e":784.5,"i":0.82},{"s":"k4","e":783.7,"i":1.12},{"s":"k4","e":783.2,"i":1.45},{"s":"k4","e":782.7,"i":1.85},{"s":"k4","e":782.3,"i":2.3},{"s":"k4","e":782.05,"i":2.77},{"s":"k4","e":781.8,"i":3.25},{"s":"k4","e":781.6,"i":3.68},{"s":"k4","e":781.35,"i":4.15},{"s":"k4","e":781.1,"i":4.59},{"s":"k4","e":780.9,"i":4.85},{"s":"k4","e":780.66,"i":5.0},{"s":"k4","e":780.45,"i":4.85},{"s":"k4","e":780.3,"i":4.59},{"s":"k4","e":780.1,"i":3.9},{"s":"k4","e":779.95,"i":3.22},{"s":"k4","e":779.75,"i":2.5},{"s":"k4","e":779.6,"i":1.85},{"s":"k4","e":779.45,"i":1.25},{"s":"k4","e":779.3,"i":0.76},{"s":"k4","e":779.05,"i":0.4},{"s":"k4","e":778.8,"i":0.21},{"s":"k4","e":778.3,"i":0.08},{"s":"k4","e":777.8,"i":0.04},{"s":"k4","e":775.0,"i":0.01},{"s":"k4","e":769.1,"i":0.0},
{"s":"o1","e":811.0,"i":0.02},{"s":"o1","e":809.5,"i":0.05},{"s":"o1","e":808.0,"i":0.1},{"s":"o1","e":806.8,"i":0.15},{"s":"o1","e":805.6,"i":0.21},{"s":"o1","e":804.55,"i":0.23},{"s":"o1","e":803.5,"i":0.19},{"s":"o1","e":802.3,"i":0.1},{"s":"o1","e":801.3,"i":0.05},{"s":"o1","e":800.0,"i":0.02},
{"s":"o2","e":806.0,"i":0.03},{"s":"o2","e":803.5,"i":0.1},{"s":"o2","e":802.0,"i":0.16},{"s":"o2","e":800.9,"i":0.22},{"s":"o2","e":800.3,"i":0.26},{"s":"o2","e":799.5,"i":0.32},{"s":"o2","e":798.8,"i":0.39},{"s":"o2","e":798.2,"i":0.42},{"s":"o2","e":797.6,"i":0.36},{"s":"o2","e":797.1,"i":0.25},{"s":"o2","e":796.7,"i":0.16},{"s":"o2","e":796.3,"i":0.09},{"s":"o2","e":795.8,"i":0.04},{"s":"o2","e":795.0,"i":0.01},
{"s":"o3","e":793.0,"i":0.02},{"s":"o3","e":791.0,"i":0.06},{"s":"o3","e":789.5,"i":0.12},{"s":"o3","e":788.2,"i":0.18},{"s":"o3","e":787.0,"i":0.21},{"s":"o3","e":786.0,"i":0.17},{"s":"o3","e":785.2,"i":0.1},{"s":"o3","e":784.5,"i":0.05},{"s":"o3","e":783.5,"i":0.02},
{"s":"o4","e":792.0,"i":0.03},{"s":"o4","e":790.0,"i":0.08},{"s":"o4","e":788.5,"i":0.16},{"s":"o4","e":787.3,"i":0.24},{"s":"o4","e":786.3,"i":0.33},{"s":"o4","e":785.3,"i":0.43},{"s":"o4","e":784.5,"i":0.53},{"s":"o4","e":783.7,"i":0.67},{"s":"o4","e":783.0,"i":0.78},{"s":"o4","e":782.45,"i":0.85},{"s":"o4","e":782.0,"i":0.78},{"s":"o4","e":781.6,"i":0.62},{"s":"o4","e":781.3,"i":0.44},{"s":"o4","e":781.0,"i":0.27},{"s":"o4","e":780.6,"i":0.12},{"s":"o4","e":780.1,"i":0.04},{"s":"o4","e":779.5,"i":0.01},
{"s":"d1","e":811.0,"i":0.02},{"s":"d1","e":808.5,"i":0.07},{"s":"d1","e":807.5,"i":0.16},{"s":"d1","e":806.7,"i":0.27},{"s":"d1","e":805.9,"i":0.41},{"s":"d1","e":805.2,"i":0.58},{"s":"d1","e":804.55,"i":0.73},{"s":"d1","e":803.9,"i":0.85},{"s":"d1","e":803.25,"i":0.9},{"s":"d1","e":802.6,"i":0.83},{"s":"d1","e":801.95,"i":0.67},{"s":"d1","e":801.4,"i":0.46},{"s":"d1","e":800.97,"i":0.3},{"s":"d1","e":800.4,"i":0.17},{"s":"d1","e":800.0,"i":0.12},{"s":"d1","e":799.0,"i":0.05},{"s":"d1","e":797.0,"i":0.02},
{"s":"d2","e":806.0,"i":0.03},{"s":"d2","e":803.25,"i":0.16},{"s":"d2","e":801.8,"i":0.3},{"s":"d2","e":801.0,"i":0.39},{"s":"d2","e":800.3,"i":0.52},{"s":"d2","e":799.7,"i":0.67},{"s":"d2","e":799.2,"i":0.86},{"s":"d2","e":798.7,"i":1.08},{"s":"d2","e":798.3,"i":1.3},{"s":"d2","e":798.0,"i":1.49},{"s":"d2","e":797.55,"i":1.69},{"s":"d2","e":797.1,"i":1.55},{"s":"d2","e":796.7,"i":1.21},{"s":"d2","e":796.4,"i":0.9},{"s":"d2","e":796.2,"i":0.67},{"s":"d2","e":795.95,"i":0.45},{"s":"d2","e":795.75,"i":0.3},{"s":"d2","e":795.3,"i":0.16},{"s":"d2","e":794.8,"i":0.1},{"s":"d2","e":793.5,"i":0.05},{"s":"d2","e":790.0,"i":0.02},
{"s":"d3","e":793.5,"i":0.05},{"s":"d3","e":792.0,"i":0.12},{"s":"d3","e":790.5,"i":0.3},{"s":"d3","e":789.8,"i":0.45},{"s":"d3","e":789.2,"i":0.58},{"s":"d3","e":788.7,"i":0.75},{"s":"d3","e":788.3,"i":0.9},{"s":"d3","e":787.8,"i":1.05},{"s":"d3","e":787.3,"i":1.12},{"s":"d3","e":786.8,"i":1.05},{"s":"d3","e":786.3,"i":0.9},{"s":"d3","e":785.9,"i":0.73},{"s":"d3","e":785.5,"i":0.58},{"s":"d3","e":785.0,"i":0.42},{"s":"d3","e":784.5,"i":0.3},{"s":"d3","e":783.8,"i":0.18},{"s":"d3","e":783.0,"i":0.12},{"s":"d3","e":782.0,"i":0.07},{"s":"d3","e":780.0,"i":0.03},
{"s":"d4","e":795.0,"i":0.03},{"s":"d4","e":792.0,"i":0.08},{"s":"d4","e":790.2,"i":0.16},{"s":"d4","e":788.5,"i":0.3},{"s":"d4","e":787.0,"i":0.48},{"s":"d4","e":786.0,"i":0.7},{"s":"d4","e":785.3,"i":0.94},{"s":"d4","e":784.5,"i":1.25},{"s":"d4","e":783.7,"i":1.58},{"s":"d4","e":783.2,"i":1.9},{"s":"d4","e":782.7,"i":2.22},{"s":"d4","e":782.4,"i":2.5},{"s":"d4","e":782.05,"i":2.77},{"s":"d4","e":781.8,"i":3.05},{"s":"d4","e":781.5,"i":3.36},{"s":"d4","e":781.35,"i":2.8},{"s":"d4","e":781.2,"i":2.35},{"s":"d4","e":781.0,"i":1.6},{"s":"d4","e":780.8,"i":1.0},{"s":"d4","e":780.5,"i":0.5},{"s":"d4","e":780.2,"i":0.22},{"s":"d4","e":779.8,"i":0.1},{"s":"d4","e":779.2,"i":0.04},{"s":"d4","e":778.0,"i":0.02},
{"s":"base","e":814.0,"i":0.0},{"s":"base","e":769.0,"i":0.0}],
"br_p":[{"e":814.0,"i":2.53},{"e":813.8,"i":2.49},{"e":813.6,"i":2.65},{"e":813.4,"i":2.39},{"e":813.2,"i":2.59},{"e":813.0,"i":2.64},{"e":812.8,"i":2.47},{"e":812.6,"i":2.58},{"e":812.4,"i":2.43},{"e":812.2,"i":2.64},{"e":812.0,"i":2.72},{"e":811.8,"i":2.54},{"e":811.6,"i":2.49},{"e":811.4,"i":2.69},{"e":811.2,"i":2.58},{"e":811.0,"i":2.65},{"e":810.8,"i":2.46},{"e":810.6,"i":2.65},{"e":810.4,"i":2.74},{"e":810.2,"i":2.55},{"e":810.0,"i":2.61},{"e":809.8,"i":2.73},{"e":809.6,"i":2.55},{"e":809.4,"i":2.76},{"e":809.2,"i":2.6},{"e":809.0,"i":2.74},{"e":808.8,"i":2.87},{"e":808.6,"i":2.7},{"e":808.4,"i":2.68},{"e":808.2,"i":2.93},{"e":808.0,"i":2.88},{"e":807.8,"i":2.87},{"e":807.6,"i":3.08},{"e":807.4,"i":2.86},{"e":807.2,"i":3.11},{"e":807.0,"i":3.21},{"e":806.8,"i":3.1},{"e":806.6,"i":3.27},{"e":806.4,"i":3.18},{"e":806.2,"i":3.44},{"e":806.0,"i":3.58},{"e":805.8,"i":3.46},{"e":805.6,"i":3.46},{"e":805.4,"i":3.72},{"e":805.2,"i":3.65},{"e":805.0,"i":3.77},{"e":804.8,"i":3.63},{"e":804.6,"i":3.86},{"e":804.4,"i":3.98},{"e":804.2,"i":3.81},{"e":804.0,"i":3.89},{"e":803.8,"i":4.02},{"e":803.6,"i":3.83},{"e":803.4,"i":4.0},{"e":803.2,"i":3.8},{"e":803.0,"i":3.89},{"e":802.8,"i":3.95},{"e":802.6,"i":3.7},{"e":802.4,"i":3.59},{"e":802.2,"i":3.75},{"e":802.0,"i":3.59},{"e":801.8,"i":3.48},{"e":801.6,"i":3.57},{"e":801.4,"i":3.25},{"e":801.2,"i":3.41},{"e":801.0,"i":3.42},{"e":800.8,"i":3.25},{"e":800.6,"i":3.37},{"e":800.4,"i":3.25},{"e":800.2,"i":3.49},{"e":800.0,"i":3.62},{"e":799.8,"i":3.49},{"e":799.6,"i":3.51},{"e":799.4,"i":3.81},{"e":799.2,"i":3.8},{"e":799.0,"i":3.98},{"e":798.8,"i":3.92},{"e":798.6,"i":4.23},{"e":798.4,"i":4.46},{"e":798.2,"i":4.41},{"e":798.0,"i":4.61},{"e":797.8,"i":4.87},{"e":797.6,"i":4.79},{"e":797.4,"i":5.06},{"e":797.2,"i":5.2},{"e":797.0,"i":4.9},{"e":796.8,"i":4.98},{"e":796.6,"i":5.04},{"e":796.4,"i":4.72},{"e":796.2,"i":4.54},{"e":796.0,"i":4.61},{"e":795.8,"i":4.36},{"e":795.6,"i":4.14},{"e":795.4,"i":4.12},{"e":795.2,"i":3.66},{"e":795.0,"i":3.64},{"e":794.8,"i":3.42},{"e":794.6,"i":2.99},{"e":794.4,"i":2.83},{"e":794.2,"i":2.47},{"e":794.0,"i":2.52},{"e":793.8,"i":2.45},{"e":793.6,"i":2.19},{"e":793.4,"i":2.07},{"e":793.2,"i":2.23},{"e":793.0,"i":1.89},{"e":792.8,"i":2.18},{"e":792.6,"i":2.0},{"e":792.4,"i":2.21},{"e":792.2,"i":2.33},{"e":792.0,"i":2.17},{"e":791.8,"i":2.27},{"e":791.6,"i":2.45},{"e":791.4,"i":2.33},{"e":791.2,"i":2.59},{"e":791.0,"i":2.49},{"e":790.8,"i":2.72},{"e":790.6,"i":2.92},{"e":790.4,"i":2.81},{"e":790.2,"i":2.85},{"e":790.0,"i":3.15},{"e":789.8,"i":3.13},{"e":789.6,"i":3.16},{"e":789.4,"i":3.38},{"e":789.2,"i":3.16},{"e":789.0,"i":3.4},{"e":788.8,"i":3.49},{"e":788.6,"i":3.36},{"e":788.4,"i":3.51},{"e":788.2,"i":3.4},{"e":788.0,"i":3.65},{"e":787.8,"i":3.8},{"e":787.6,"i":3.69},{"e":787.4,"i":3.92},{"e":787.2,"i":3.9},{"e":787.0,"i":3.75},{"e":786.8,"i":3.78},{"e":786.6,"i":3.53},{"e":786.4,"i":3.65},{"e":786.2,"i":3.68},{"e":786.0,"i":3.43},{"e":785.8,"i":3.43},{"e":785.6,"i":3.49},{"e":785.4,"i":3.26},{"e":785.2,"i":3.46},{"e":785.0,"i":3.32},{"e":784.8,"i":3.52},{"e":784.6,"i":3.72},{"e":784.4,"i":3.68},{"e":784.2,"i":3.83},{"e":784.0,"i":4.3},{"e":783.8,"i":4.46},{"e":783.6,"i":4.65},{"e":783.4,"i":5.06},{"e":783.2,"i":5.05},{"e":783.0,"i":5.56},{"e":782.8,"i":5.92},{"e":782.6,"i":6.08},{"e":782.4,"i":6.49},{"e":782.2,"i":6.62},{"e":782.0,"i":7.06},{"e":781.8,"i":7.35},{"e":781.6,"i":7.35},{"e":781.4,"i":7.37},{"e":781.2,"i":7.53},{"e":781.0,"i":7.31},{"e":780.8,"i":7.1},{"e":780.6,"i":6.47},{"e":780.4,"i":6.09},{"e":780.2,"i":5.51},{"e":780.0,"i":4.53},{"e":779.8,"i":3.82},{"e":779.6,"i":3.14},{"e":779.4,"i":2.16},{"e":779.2,"i":1.68},{"e":779.0,"i":0.97},{"e":778.8,"i":0.76},{"e":778.6,"i":0.64},{"e":778.4,"i":0.29},{"e":778.2,"i":0.11},{"e":778.0,"i":0.27},{"e":777.8,"i":0.13},{"e":777.6,"i":0.05},{"e":777.4,"i":0.19},{"e":777.2,"i":-0.1},{"e":777.0,"i":0.09},{"e":776.8,"i":-0.16},{"e":776.6,"i":-0.05},{"e":776.4,"i":0.05},{"e":776.2,"i":-0.1},{"e":776.0,"i":0.09},{"e":775.8,"i":-0.16},{"e":775.6,"i":-0.01},{"e":775.4,"i":-0.08},{"e":775.2,"i":0.12},{"e":775.0,"i":0.0},{"e":774.8,"i":0.06},{"e":774.6,"i":-0.14},{"e":774.4,"i":0.04},{"e":774.2,"i":-0.22},{"e":774.0,"i":-0.07},{"e":773.8,"i":-0.02},{"e":773.6,"i":0.09},{"e":773.4,"i":-0.11},{"e":773.2,"i":0.08},{"e":773.0,"i":-0.1},{"e":772.8,"i":0.03},{"e":772.6,"i":0.14},{"e":772.4,"i":-0.06},{"e":772.2,"i":-0.12},{"e":772.0,"i":0.1},{"e":771.8,"i":0.01},{"e":771.6,"i":-0.04},{"e":771.4,"i":0.12},{"e":771.2,"i":-0.15},{"e":771.0,"i":0.05},{"e":770.8,"i":0.09},{"e":770.6,"i":-0.08},{"e":770.4,"i":0.02},{"e":770.2,"i":-0.13},{"e":770.0,"i":0.07},{"e":769.8,"i":-0.21},{"e":769.6,"i":-0.03},{"e":769.4,"i":-0.09},{"e":769.2,"i":0.11},{"e":769.0,"i":-0.01},{"e":768.8,"i":0.06}],
"br_l":[
{"s":"env","e":814.06,"i":2.52},{"s":"env","e":812.5,"i":2.56},{"s":"env","e":811.0,"i":2.59},{"s":"env","e":810.0,"i":2.63},{"s":"env","e":808.9,"i":2.72},{"s":"env","e":808.1,"i":2.85},{"s":"env","e":807.3,"i":3.03},{"s":"env","e":806.5,"i":3.28},{"s":"env","e":805.6,"i":3.55},{"s":"env","e":804.6,"i":3.82},{"s":"env","e":803.7,"i":3.94},{"s":"env","e":803.0,"i":3.86},{"s":"env","e":802.3,"i":3.68},{"s":"env","e":801.6,"i":3.45},{"s":"env","e":801.0,"i":3.33},{"s":"env","e":800.4,"i":3.38},{"s":"env","e":799.7,"i":3.55},{"s":"env","e":799.0,"i":3.92},{"s":"env","e":798.4,"i":4.33},{"s":"env","e":797.8,"i":4.78},{"s":"env","e":797.2,"i":5.02},{"s":"env","e":796.6,"i":4.9},{"s":"env","e":796.1,"i":4.59},{"s":"env","e":795.6,"i":4.18},{"s":"env","e":795.1,"i":3.72},{"s":"env","e":794.7,"i":3.2},{"s":"env","e":794.3,"i":2.68},{"s":"env","e":793.8,"i":2.3},{"s":"env","e":793.1,"i":2.11},{"s":"env","e":792.5,"i":2.15},{"s":"env","e":791.8,"i":2.29},{"s":"env","e":791.1,"i":2.55},{"s":"env","e":790.45,"i":2.85},{"s":"env","e":789.9,"i":3.08},{"s":"env","e":789.5,"i":3.24},{"s":"env","e":788.8,"i":3.4},{"s":"env","e":788.1,"i":3.55},{"s":"env","e":787.6,"i":3.72},{"s":"env","e":787.2,"i":3.79},{"s":"env","e":786.7,"i":3.7},{"s":"env","e":786.2,"i":3.55},{"s":"env","e":785.7,"i":3.42},{"s":"env","e":785.3,"i":3.36},{"s":"env","e":784.9,"i":3.45},{"s":"env","e":784.5,"i":3.63},{"s":"env","e":784.2,"i":3.95},{"s":"env","e":783.9,"i":4.33},{"s":"env","e":783.55,"i":4.75},{"s":"env","e":783.2,"i":5.2},{"s":"env","e":782.85,"i":5.75},{"s":"env","e":782.5,"i":6.33},{"s":"env","e":782.2,"i":6.75},{"s":"env","e":781.9,"i":7.11},{"s":"env","e":781.65,"i":7.35},{"s":"env","e":781.4,"i":7.46},{"s":"env","e":781.15,"i":7.4},{"s":"env","e":780.95,"i":7.29},{"s":"env","e":780.75,"i":6.95},{"s":"env","e":780.55,"i":6.5},{"s":"env","e":780.35,"i":5.9},{"s":"env","e":780.15,"i":5.2},{"s":"env","e":779.95,"i":4.4},{"s":"env","e":779.7,"i":3.46},{"s":"env","e":779.5,"i":2.65},{"s":"env","e":779.3,"i":1.89},{"s":"env","e":779.1,"i":1.3},{"s":"env","e":778.9,"i":0.85},{"s":"env","e":778.6,"i":0.5},{"s":"env","e":778.25,"i":0.24},{"s":"env","e":777.8,"i":0.12},{"s":"env","e":777.25,"i":0.05},{"s":"env","e":775.3,"i":0.01},{"s":"env","e":768.8,"i":0.0},
{"s":"bg","e":814.06,"i":2.31},{"s":"bg","e":811.0,"i":2.28},{"s":"bg","e":808.9,"i":2.26},{"s":"bg","e":807.2,"i":2.21},{"s":"bg","e":805.6,"i":2.15},{"s":"bg","e":804.0,"i":2.06},{"s":"bg","e":802.3,"i":1.94},{"s":"bg","e":800.7,"i":1.83},{"s":"bg","e":799.05,"i":1.72},{"s":"bg","e":797.4,"i":1.59},{"s":"bg","e":795.7,"i":1.46},{"s":"bg","e":794.0,"i":1.4},{"s":"bg","e":792.4,"i":1.37},{"s":"bg","e":790.7,"i":1.31},{"s":"bg","e":789.1,"i":1.24},{"s":"bg","e":787.5,"i":1.1},{"s":"bg","e":785.8,"i":0.94},{"s":"bg","e":784.5,"i":0.78},{"s":"bg","e":783.2,"i":0.59},{"s":"bg","e":782.3,"i":0.45},{"s":"bg","e":781.55,"i":0.33},{"s":"bg","e":780.9,"i":0.21},{"s":"bg","e":780.2,"i":0.11},{"s":"bg","e":779.6,"i":0.03},{"s":"bg","e":779.0,"i":0.0},{"s":"bg","e":768.8,"i":0.0},
{"s":"k1","e":810.5,"i":0.02},{"s":"k1","e":809.5,"i":0.04},{"s":"k1","e":808.6,"i":0.07},{"s":"k1","e":807.8,"i":0.11},{"s":"k1","e":806.8,"i":0.19},{"s":"k1","e":806.0,"i":0.25},{"s":"k1","e":805.3,"i":0.27},{"s":"k1","e":804.7,"i":0.22},{"s":"k1","e":804.2,"i":0.14},{"s":"k1","e":803.6,"i":0.07},{"s":"k1","e":802.9,"i":0.04},{"s":"k1","e":801.5,"i":0.02},
{"s":"k2","e":810.0,"i":0.02},{"s":"k2","e":806.0,"i":0.04},{"s":"k2","e":803.5,"i":0.09},{"s":"k2","e":801.8,"i":0.15},{"s":"k2","e":800.5,"i":0.2},{"s":"k2","e":799.3,"i":0.28},{"s":"k2","e":798.5,"i":0.37},{"s":"k2","e":797.9,"i":0.5},{"s":"k2","e":797.4,"i":0.63},{"s":"k2","e":797.0,"i":0.82},{"s":"k2","e":796.6,"i":1.03},{"s":"k2","e":796.1,"i":1.37},{"s":"k2","e":795.55,"i":1.57},{"s":"k2","e":795.1,"i":1.37},{"s":"k2","e":794.85,"i":1.1},{"s":"k2","e":794.65,"i":0.85},{"s":"k2","e":794.4,"i":0.55},{"s":"k2","e":794.2,"i":0.33},{"s":"k2","e":793.9,"i":0.17},{"s":"k2","e":793.6,"i":0.09},{"s":"k2","e":793.0,"i":0.05},{"s":"k2","e":791.0,"i":0.03},{"s":"k2","e":788.0,"i":0.02},
{"s":"k3","e":794.0,"i":0.02},{"s":"k3","e":792.5,"i":0.06},{"s":"k3","e":791.3,"i":0.16},{"s":"k3","e":790.5,"i":0.23},{"s":"k3","e":789.8,"i":0.26},{"s":"k3","e":789.0,"i":0.22},{"s":"k3","e":788.3,"i":0.16},{"s":"k3","e":787.6,"i":0.1},{"s":"k3","e":787.0,"i":0.06},{"s":"k3","e":786.0,"i":0.03},{"s":"k3","e":784.5,"i":0.02},
{"s":"k4","e":800.0,"i":0.02},{"s":"k4","e":795.0,"i":0.04},{"s":"k4","e":792.0,"i":0.07},{"s":"k4","e":789.1,"i":0.16},{"s":"k4","e":787.5,"i":0.26},{"s":"k4","e":786.5,"i":0.34},{"s":"k4","e":785.8,"i":0.42},{"s":"k4","e":785.0,"i":0.57},{"s":"k4","e":784.2,"i":0.76},{"s":"k4","e":783.5,"i":1.02},{"s":"k4","e":782.9,"i":1.29},{"s":"k4","e":782.4,"i":1.62},{"s":"k4","e":782.05,"i":1.89},{"s":"k4","e":781.7,"i":2.25},{"s":"k4","e":781.4,"i":2.59},{"s":"k4","e":781.15,"i":2.95},{"s":"k4","e":780.9,"i":3.29},{"s":"k4","e":780.65,"i":3.58},{"s":"k4","e":780.4,"i":3.74},{"s":"k4","e":780.2,"i":3.58},{"s":"k4","e":780.0,"i":3.29},{"s":"k4","e":779.8,"i":2.75},{"s":"k4","e":779.6,"i":2.24},{"s":"k4","e":779.45,"i":1.7},{"s":"k4","e":779.3,"i":1.2},{"s":"k4","e":779.1,"i":0.75},{"s":"k4","e":778.9,"i":0.42},{"s":"k4","e":778.65,"i":0.2},{"s":"k4","e":778.4,"i":0.07},{"s":"k4","e":778.0,"i":0.02},{"s":"k4","e":775.0,"i":0.01},
{"s":"o1","e":811.0,"i":0.02},{"s":"o1","e":809.5,"i":0.05},{"s":"o1","e":808.8,"i":0.09},{"s":"o1","e":807.6,"i":0.16},{"s":"o1","e":806.5,"i":0.24},{"s":"o1","e":805.3,"i":0.33},{"s":"o1","e":804.2,"i":0.37},{"s":"o1","e":803.0,"i":0.31},{"s":"o1","e":801.8,"i":0.2},{"s":"o1","e":800.9,"i":0.12},{"s":"o1","e":800.2,"i":0.07},{"s":"o1","e":799.0,"i":0.03},{"s":"o1","e":797.5,"i":0.01},
{"s":"o2","e":806.5,"i":0.04},{"s":"o2","e":804.5,"i":0.12},{"s":"o2","e":803.0,"i":0.18},{"s":"o2","e":801.8,"i":0.24},{"s":"o2","e":800.8,"i":0.33},{"s":"o2","e":799.9,"i":0.42},{"s":"o2","e":799.0,"i":0.55},{"s":"o2","e":798.5,"i":0.64},{"s":"o2","e":798.05,"i":0.69},{"s":"o2","e":797.6,"i":0.65},{"s":"o2","e":797.2,"i":0.59},{"s":"o2","e":796.9,"i":0.46},{"s":"o2","e":796.6,"i":0.33},{"s":"o2","e":796.2,"i":0.18},{"s":"o2","e":795.9,"i":0.12},{"s":"o2","e":795.3,"i":0.05},{"s":"o2","e":794.5,"i":0.02},
{"s":"o3","e":794.5,"i":0.02},{"s":"o3","e":792.5,"i":0.05},{"s":"o3","e":791.3,"i":0.16},{"s":"o3","e":790.3,"i":0.26},{"s":"o3","e":789.6,"i":0.35},{"s":"o3","e":788.8,"i":0.43},{"s":"o3","e":788.0,"i":0.48},{"s":"o3","e":787.2,"i":0.43},{"s":"o3","e":786.3,"i":0.35},{"s":"o3","e":785.8,"i":0.25},{"s":"o3","e":785.3,"i":0.16},{"s":"o3","e":784.5,"i":0.07},{"s":"o3","e":783.5,"i":0.03},{"s":"o3","e":782.5,"i":0.01},
{"s":"o4","e":795.0,"i":0.03},{"s":"o4","e":792.0,"i":0.06},{"s":"o4","e":790.1,"i":0.2},{"s":"o4","e":788.8,"i":0.32},{"s":"o4","e":787.5,"i":0.46},{"s":"o4","e":786.6,"i":0.6},{"s":"o4","e":785.8,"i":0.76},{"s":"o4","e":785.0,"i":0.94},{"s":"o4","e":784.2,"i":1.11},{"s":"o4","e":783.7,"i":1.24},{"s":"o4","e":783.2,"i":1.37},{"s":"o4","e":782.7,"i":1.5},{"s":"o4","e":782.2,"i":1.59},{"s":"o4","e":781.85,"i":1.45},{"s":"o4","e":781.55,"i":1.2},{"s":"o4","e":781.3,"i":0.9},{"s":"o4","e":781.05,"i":0.59},{"s":"o4","e":780.8,"i":0.38},{"s":"o4","e":780.55,"i":0.2},{"s":"o4","e":780.3,"i":0.1},{"s":"o4","e":780.05,"i":0.05},{"s":"o4","e":779.5,"i":0.01},
{"s":"d1","e":811.0,"i":0.02},{"s":"d1","e":809.0,"i":0.05},{"s":"d1","e":808.0,"i":0.09},{"s":"d1","e":807.5,"i":0.16},{"s":"d1","e":806.6,"i":0.28},{"s":"d1","e":805.8,"i":0.42},{"s":"d1","e":805.1,"i":0.58},{"s":"d1","e":804.5,"i":0.72},{"s":"d1","e":803.8,"i":0.84},{"s":"d1","e":803.2,"i":0.89},{"s":"d1","e":802.5,"i":0.8},{"s":"d1","e":801.8,"i":0.63},{"s":"d1","e":801.3,"i":0.47},{"s":"d1","e":800.85,"i":0.33},{"s":"d1","e":800.3,"i":0.19},{"s":"d1","e":799.9,"i":0.12},{"s":"d1","e":799.0,"i":0.05},{"s":"d1","e":797.5,"i":0.03},
{"s":"d2","e":806.0,"i":0.04},{"s":"d2","e":804.0,"i":0.1},{"s":"d2","e":803.2,"i":0.16},{"s":"d2","e":802.2,"i":0.26},{"s":"d2","e":801.2,"i":0.37},{"s":"d2","e":800.5,"i":0.52},{"s":"d2","e":799.9,"i":0.68},{"s":"d2","e":799.4,"i":0.85},{"s":"d2","e":798.9,"i":1.03},{"s":"d2","e":798.5,"i":1.22},{"s":"d2","e":798.2,"i":1.37},{"s":"d2","e":797.8,"i":1.58},{"s":"d2","e":797.3,"i":1.7},{"s":"d2","e":796.9,"i":1.45},{"s":"d2","e":796.65,"i":1.05},{"s":"d2","e":796.4,"i":0.68},{"s":"d2","e":796.15,"i":0.45},{"s":"d2","e":795.9,"i":0.29},{"s":"d2","e":795.6,"i":0.17},{"s":"d2","e":795.25,"i":0.08},{"s":"d2","e":794.5,"i":0.04},{"s":"d2","e":793.0,"i":0.02},
{"s":"d3","e":794.0,"i":0.03},{"s":"d3","e":792.0,"i":0.07},{"s":"d3","e":791.0,"i":0.14},{"s":"d3","e":790.3,"i":0.29},{"s":"d3","e":789.6,"i":0.45},{"s":"d3","e":789.0,"i":0.59},{"s":"d3","e":788.5,"i":0.74},{"s":"d3","e":788.0,"i":0.89},{"s":"d3","e":787.4,"i":1.01},{"s":"d3","e":786.8,"i":1.07},{"s":"d3","e":786.3,"i":0.98},{"s":"d3","e":786.0,"i":0.89},{"s":"d3","e":785.6,"i":0.74},{"s":"d3","e":785.2,"i":0.59},{"s":"d3","e":784.7,"i":0.44},{"s":"d3","e":784.2,"i":0.29},{"s":"d3","e":783.5,"i":0.17},{"s":"d3","e":782.7,"i":0.1},{"s":"d3","e":781.5,"i":0.05},{"s":"d3","e":780.0,"i":0.02},
{"s":"d4","e":796.0,"i":0.02},{"s":"d4","e":793.0,"i":0.06},{"s":"d4","e":791.0,"i":0.12},{"s":"d4","e":789.8,"i":0.2},{"s":"d4","e":787.5,"i":0.46},{"s":"d4","e":785.8,"i":0.81},{"s":"d4","e":784.5,"i":1.29},{"s":"d4","e":783.5,"i":1.89},{"s":"d4","e":783.0,"i":2.25},{"s":"d4","e":782.7,"i":2.59},{"s":"d4","e":782.35,"i":2.9},{"s":"d4","e":782.05,"i":3.2},{"s":"d4","e":781.75,"i":3.4},{"s":"d4","e":781.4,"i":3.5},{"s":"d4","e":781.15,"i":3.25},{"s":"d4","e":780.95,"i":2.94},{"s":"d4","e":780.7,"i":2.2},{"s":"d4","e":780.5,"i":1.72},{"s":"d4","e":780.3,"i":0.85},{"s":"d4","e":780.1,"i":0.45},{"s":"d4","e":779.9,"i":0.29},{"s":"d4","e":779.6,"i":0.12},{"s":"d4","e":779.4,"i":0.05},{"s":"d4","e":778.5,"i":0.02},
{"s":"base","e":814.2,"i":0.02},{"s":"base","e":768.6,"i":0.02}]
},
"concat":[
{"width":461,"height":301.5,
"layer":[
{"encoding":{"x":{"field":"e","type":"quantitative","scale":{"domain":[769.05,808.09],"reverse":true,"nice":false,"zero":false},"axis":{"values":[800,790,780,770],"title":"Binding energy (eV)"}},"y":{"field":"i","type":"quantitative","scale":{"domain":[-0.047,7.8],"nice":false,"zero":false},"axis":{"values":[1,2,3,4,5,6,7],"title":"Intensity (arb. units)"}}},
"layer":[
{"data":{"name":"tl_l"},"transform":[{"filter":{"field":"s","oneOf":["c1","c2","c3","c4","c5","c6"]}}],"mark":{"type":"line","interpolate":"monotone","strokeDash":[2,2],"strokeWidth":2.2,"color":"#e2143c","clip":true},"encoding":{"detail":{"field":"s"}}},
{"data":{"name":"tl_l"},"transform":[{"filter":"datum.s==='base'"}],"mark":{"type":"line","strokeWidth":2.5,"color":"#e2143c","clip":true},"encoding":{"detail":{"field":"s"}}},
{"data":{"name":"tl_l"},"transform":[{"filter":"datum.s==='bg'"}],"mark":{"type":"line","interpolate":"monotone","strokeWidth":1,"color":"#000","clip":true},"encoding":{"detail":{"field":"s"}}},
{"data":{"name":"tl_p"},"mark":{"type":"point","shape":"circle","filled":false,"size":10,"strokeWidth":0.9,"color":"#111","clip":true},"encoding":{}},
{"data":{"name":"tl_l"},"transform":[{"filter":"datum.s==='env'"}],"mark":{"type":"line","interpolate":"monotone","strokeWidth":1.4,"color":"#e5403a","clip":true},"encoding":{"detail":{"field":"s"}}}
]},
{"data":{"values":[{}]},"mark":{"type":"text","text":"5% Co:ZnO","fontSize":26,"fontWeight":"bold","align":"left","baseline":"alphabetic","color":"#231f20"},"encoding":{"x":{"datum":806.35},"y":{"datum":6.94}}},
{"data":{"values":[{}]},"mark":{"type":"text","text":"800ºC air annealed","fontSize":22,"align":"left","baseline":"alphabetic","color":"#231f20"},"encoding":{"x":{"datum":806.35},"y":{"datum":6.38}}},
{"data":{"values":[{}]},"mark":{"type":"text","text":"E","fontSize":22,"align":"left","baseline":"alphabetic","color":"#231f20"},"encoding":{"x":{"datum":806.35},"y":{"datum":5.75}}},
{"data":{"values":[{}]},"mark":{"type":"text","text":"photon","fontSize":13,"dx":15,"dy":6.6,"align":"left","baseline":"alphabetic","color":"#231f20"},"encoding":{"x":{"datum":806.35},"y":{"datum":5.75}}},
{"data":{"values":[{}]},"mark":{"type":"text","text":"= 3.0 keV","fontSize":22,"dx":60,"align":"left","baseline":"alphabetic","color":"#231f20"},"encoding":{"x":{"datum":806.35},"y":{"datum":5.75}}}
]},
{"width":461,"height":301.5,
"layer":[
{"encoding":{"x":{"field":"e","type":"quantitative","scale":{"domain":[776.1,825.14],"reverse":true,"nice":false,"zero":false},"axis":{"values":[820,810,800,790,780],"title":"Binding energy (eV)"}},"y":{"field":"i","type":"quantitative","scale":{"domain":[-0.02,7.52],"nice":false,"zero":false},"axis":{"values":[1,2,3,4,5,6,7],"title":"Intensity (arb. units)"}}},
"layer":[
{"data":{"name":"tr_l"},"transform":[{"filter":"datum.s==='base'"}],"mark":{"type":"line","strokeWidth":2.5,"color":"#c8102e","clip":true},"encoding":{"detail":{"field":"s"}}},
{"data":{"name":"tr_l"},"transform":[{"filter":{"field":"s","oneOf":["p1","p2","p3","p4"]}}],"mark":{"type":"line","interpolate":"monotone","strokeWidth":2,"color":"#000","clip":true},"encoding":{"detail":{"field":"s"}}},
{"data":{"name":"tr_l"},"transform":[{"filter":"datum.s==='bg'"}],"mark":{"type":"line","interpolate":"monotone","strokeWidth":1,"color":"#000","clip":true},"encoding":{"detail":{"field":"s"}}},
{"data":{"name":"tr_p"},"mark":{"type":"point","shape":"circle","filled":false,"size":10,"strokeWidth":0.9,"color":"#111","clip":true},"encoding":{}},
{"data":{"name":"tr_l"},"transform":[{"filter":"datum.s==='env'"}],"mark":{"type":"line","interpolate":"monotone","strokeWidth":1.6,"color":"#d81e5b","clip":true},"encoding":{"detail":{"field":"s"}}}
]},
{"data":{"values":[{}]},"mark":{"type":"text","text":"35% Co:ZnO","fontSize":26,"fontWeight":"bold","align":"left","baseline":"alphabetic","color":"#231f20"},"encoding":{"x":{"datum":822.48},"y":{"datum":6.71}}},
{"data":{"values":[{}]},"mark":{"type":"text","text":"600ºC air annealed","fontSize":22,"align":"left","baseline":"alphabetic","color":"#231f20"},"encoding":{"x":{"datum":822.48},"y":{"datum":6.12}}},
{"data":{"values":[{}]},"mark":{"type":"text","text":"E","fontSize":22,"align":"left","baseline":"alphabetic","color":"#231f20"},"encoding":{"x":{"datum":822.48},"y":{"datum":5.57}}},
{"data":{"values":[{}]},"mark":{"type":"text","text":"photon","fontSize":13,"dx":15,"dy":6.6,"align":"left","baseline":"alphabetic","color":"#231f20"},"encoding":{"x":{"datum":822.48},"y":{"datum":5.57}}},
{"data":{"values":[{}]},"mark":{"type":"text","text":"= 3.0 keV","fontSize":22,"dx":59,"align":"left","baseline":"alphabetic","color":"#231f20"},"encoding":{"x":{"datum":822.48},"y":{"datum":5.57}}}
]},
{"width":461,"height":301.5,
"layer":[
{"encoding":{"x":{"field":"e","type":"quantitative","scale":{"domain":[768.97,814.06],"reverse":true,"nice":false,"zero":false},"axis":{"values":[810,800,790,780,770],"title":"Binding energy (eV)"}},"y":{"field":"i","type":"quantitative","scale":{"domain":[-0.29,7.97],"nice":false,"zero":false},"axis":{"values":[1,2,3,4,5,6,7],"title":"Intensity (arb. units)"}}},
"layer":[
{"data":{"name":"bl_l"},"transform":[{"filter":{"field":"s","oneOf":["o1","o2","o3","o4"]}}],"mark":{"type":"line","interpolate":"monotone","strokeWidth":2,"color":"#f15a24","clip":true},"encoding":{"detail":{"field":"s"}}},
{"data":{"name":"bl_l"},"transform":[{"filter":{"field":"s","oneOf":["d1","d2","d3","d4"]}}],"mark":{"type":"line","interpolate":"monotone","strokeDash":[2,2],"strokeWidth":2.2,"color":"#e2143c","clip":true},"encoding":{"detail":{"field":"s"}}},
{"data":{"name":"bl_l"},"transform":[{"filter":{"field":"s","oneOf":["k1","k2","k3","k4"]}}],"mark":{"type":"line","interpolate":"monotone","strokeWidth":2,"color":"#000","clip":true},"encoding":{"detail":{"field":"s"}}},
{"data":{"name":"bl_l"},"transform":[{"filter":"datum.s==='bg'"}],"mark":{"type":"line","interpolate":"monotone","strokeWidth":1,"color":"#000","clip":true},"encoding":{"detail":{"field":"s"}}},
{"data":{"name":"bl_l"},"transform":[{"filter":"datum.s==='base'"}],"mark":{"type":"line","strokeWidth":3,"color":"#e2143c","clip":true},"encoding":{"detail":{"field":"s"}}},
{"data":{"name":"bl_p"},"mark":{"type":"point","shape":"circle","filled":false,"size":12,"strokeWidth":0.9,"color":"#111","clip":true},"encoding":{}},
{"data":{"name":"bl_l"},"transform":[{"filter":"datum.s==='env'"}],"mark":{"type":"line","interpolate":"monotone","strokeWidth":1.6,"color":"#cc1f36","clip":true},"encoding":{"detail":{"field":"s"}}}
]},
{"data":{"values":[{}]},"mark":{"type":"text","text":"15% Co:ZnO","fontSize":26,"fontWeight":"bold","align":"left","baseline":"alphabetic","color":"#231f20"},"encoding":{"x":{"datum":811.73},"y":{"datum":7.08}}},
{"data":{"values":[{}]},"mark":{"type":"text","text":"600ºC","fontSize":22,"align":"left","baseline":"alphabetic","color":"#231f20"},"encoding":{"x":{"datum":811.73},"y":{"datum":6.47}}},
{"data":{"values":[{}]},"mark":{"type":"text","text":"E","fontSize":22,"align":"left","baseline":"alphabetic","color":"#231f20"},"encoding":{"x":{"datum":811.73},"y":{"datum":5.83}}},
{"data":{"values":[{}]},"mark":{"type":"text","text":"photon","fontSize":13,"dx":15,"dy":6.6,"align":"left","baseline":"alphabetic","color":"#231f20"},"encoding":{"x":{"datum":811.73},"y":{"datum":5.83}}},
{"data":{"values":[{}]},"mark":{"type":"text","text":"= 1.2 keV","fontSize":22,"dx":64,"align":"left","baseline":"alphabetic","color":"#231f20"},"encoding":{"x":{"datum":811.73},"y":{"datum":5.83}}}
]},
{"width":461,"height":301.5,
"layer":[
{"encoding":{"x":{"field":"e","type":"quantitative","scale":{"domain":[768.57,814.22],"reverse":true,"nice":false,"zero":false},"axis":{"values":[810,800,790,780,770],"title":"Binding energy (eV)"}},"y":{"field":"i","type":"quantitative","scale":{"domain":[-0.32,7.55],"nice":false,"zero":false},"axis":{"values":[1,2,3,4,5,6,7],"title":"Intensity (arb. units)"}}},
"layer":[
{"data":{"name":"br_l"},"transform":[{"filter":{"field":"s","oneOf":["o1","o2","o3","o4"]}}],"mark":{"type":"line","interpolate":"monotone","strokeWidth":2,"color":"#f15a24","clip":true},"encoding":{"detail":{"field":"s"}}},
{"data":{"name":"br_l"},"transform":[{"filter":{"field":"s","oneOf":["d1","d2","d3","d4"]}}],"mark":{"type":"line","interpolate":"monotone","strokeDash":[2,2],"strokeWidth":2.2,"color":"#e2143c","clip":true},"encoding":{"detail":{"field":"s"}}},
{"data":{"name":"br_l"},"transform":[{"filter":{"field":"s","oneOf":["k1","k2","k3","k4"]}}],"mark":{"type":"line","interpolate":"monotone","strokeWidth":2,"color":"#000","clip":true},"encoding":{"detail":{"field":"s"}}},
{"data":{"name":"br_l"},"transform":[{"filter":"datum.s==='bg'"}],"mark":{"type":"line","interpolate":"monotone","strokeWidth":1,"color":"#000","clip":true},"encoding":{"detail":{"field":"s"}}},
{"data":{"name":"br_l"},"transform":[{"filter":"datum.s==='base'"}],"mark":{"type":"line","strokeWidth":3,"color":"#e2143c","clip":true},"encoding":{"detail":{"field":"s"}}},
{"data":{"name":"br_p"},"mark":{"type":"point","shape":"circle","filled":false,"size":12,"strokeWidth":0.9,"color":"#111","clip":true},"encoding":{}},
{"data":{"name":"br_l"},"transform":[{"filter":"datum.s==='env'"}],"mark":{"type":"line","interpolate":"monotone","strokeWidth":1.6,"color":"#e2156b","clip":true},"encoding":{"detail":{"field":"s"}}}
]},
{"data":{"values":[{}]},"mark":{"type":"text","text":"15% Co:ZnO","fontSize":26,"fontWeight":"bold","align":"left","baseline":"alphabetic","color":"#231f20"},"encoding":{"x":{"datum":812.24},"y":{"datum":6.81}}},
{"data":{"values":[{}]},"mark":{"type":"text","text":"500ºC","fontSize":22,"align":"left","baseline":"alphabetic","color":"#231f20"},"encoding":{"x":{"datum":812.24},"y":{"datum":6.2}}},
{"data":{"values":[{}]},"mark":{"type":"text","text":"E","fontSize":22,"align":"left","baseline":"alphabetic","color":"#231f20"},"encoding":{"x":{"datum":812.24},"y":{"datum":5.62}}},
{"data":{"values":[{}]},"mark":{"type":"text","text":"photon","fontSize":13,"dx":15,"dy":6.6,"align":"left","baseline":"alphabetic","color":"#231f20"},"encoding":{"x":{"datum":812.24},"y":{"datum":5.62}}},
{"data":{"values":[{}]},"mark":{"type":"text","text":"= 1.2 keV","fontSize":22,"dx":64,"align":"left","baseline":"alphabetic","color":"#231f20"},"encoding":{"x":{"datum":812.24},"y":{"datum":5.62}}}
]}
]
}
